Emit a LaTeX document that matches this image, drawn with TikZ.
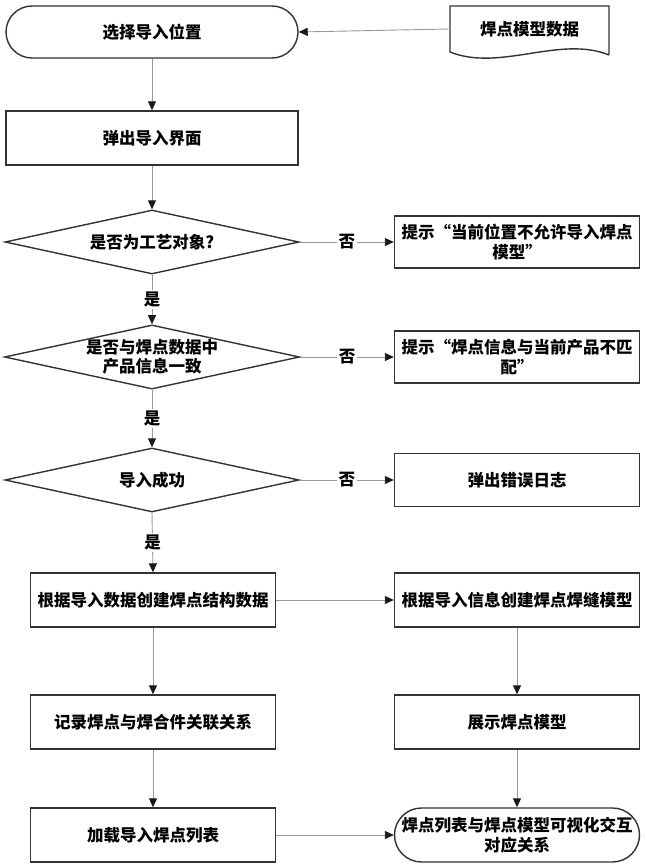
\documentclass[tikz,border=0pt]{standalone}
\usepackage{fontspec}
\newfontfamily\cjk{Noto Sans CJK SC}
\usetikzlibrary{arrows.meta,shapes.geometric,shapes.misc}
\tikzset{
  outl/.style={draw=black!80, line width=1.4pt},
  procbox/.style={outl, rectangle, minimum width=245pt, minimum height=54pt, inner sep=1pt, align=center},
  widebox/.style={procbox, minimum width=292pt},
  termbox/.style={outl, rectangle, rounded corners=26pt, minimum height=52pt, inner sep=1pt, align=center},
  decbox/.style={outl, diamond, aspect=4.6, minimum width=294pt, minimum height=64pt, inner sep=0pt, align=center},
  conn/.style={draw=black!40, line width=0.9pt, -{Triangle[length=9pt,width=8pt,color=black!90]}},
  lab/.style={fill=white, inner sep=2pt}
}
\begin{document}
\begin{tikzpicture}[x=1pt,y=-1pt, font=\cjk\bfseries\fontsize{16.5}{19.5}\selectfont]
\useasboundingbox (0,0) rectangle (646,867);
\fill[white] (0,0) rectangle (646,867);
% nodes
\node[termbox, minimum width=292pt] (start) at (152,32) {选择导入位置};
\draw[outl] (609,55) -- (609,6) -- (450,6) -- (450,52) .. controls (500,72) and (560,35) .. (609,55);
\node[minimum width=159pt, minimum height=46pt, inner sep=0pt] (doc) at (529.5,29) {焊点模型数据};
\node[widebox] (ui) at (152,138) {弹出导入界面};
\node[decbox] (d1) at (152,242) {是否为工艺对象?};
\node[procbox, minimum height=52pt] (r1) at (517,242) {提示“当前位置不允许导入焊点\\模型”};
\node[decbox] (d2) at (152,357) {是否与焊点数据中\\产品信息一致};
\node[procbox, minimum height=52pt] (r2) at (517,357) {提示“焊点信息与当前产品不匹\\配”};
\node[decbox] (d3) at (152,480) {导入成功};
\node[procbox, minimum height=53pt] (r3) at (517,480) {弹出错误日志};
\node[procbox] (b4) at (153,600) {根据导入数据创建焊点结构数据};
\node[procbox] (r4) at (517,600) {根据导入信息创建焊点焊缝模型};
\node[procbox] (b5) at (153,722) {记录焊点与焊合件关联关系};
\node[procbox] (r5) at (517,722) {展示焊点模型};
\node[procbox] (b6) at (153,835) {加载导入焊点列表};
\node[termbox, minimum width=245pt, minimum height=54pt, rounded corners=27pt] (fin) at (517,835) {焊点列表与焊点模型可视化交互\\对应关系};
% connectors
\draw[conn] (doc.west) -- (start.east);
\draw[conn] (start.south) -- (ui.north);
\draw[conn] (ui.south) -- (d1.north);
\draw[conn] (d1.east) -- node[lab] {否} (r1.west);
\draw[conn] (d1.south) -- node[lab] {是} (d2.north);
\draw[conn] (d2.east) -- node[lab] {否} (r2.west);
\draw[conn] (d2.south) -- node[lab] {是} (d3.north);
\draw[conn] (d3.east) -- node[lab] {否} (r3.west);
\draw[conn] (d3.south) -- node[lab] {是} (b4.north);
\draw[conn] (b4.east) -- (r4.west);
\draw[conn] (b4.south) -- (b5.north);
\draw[conn] (b5.south) -- (b6.north);
\draw[conn] (r4.south) -- (r5.north);
\draw[conn] (r5.south) -- (fin.north);
\draw[conn] (b6.east) -- (fin.west);
\end{tikzpicture}
\end{document}
